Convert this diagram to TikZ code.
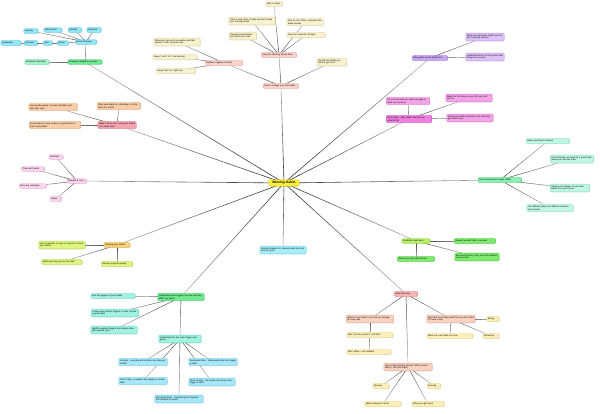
\documentclass[tikz,border=0pt]{standalone}
\usepackage{fontspec}
\setmainfont{Liberation Sans}
\usetikzlibrary{shadows,calc}
\pgfdeclarelayer{bg}\pgfsetlayers{bg,main}
\newcommand\mmfont{\fontsize{2.2}{2.75}\selectfont}
\definecolor{blueF}{HTML}{93E6F7}\definecolor{blueD}{HTML}{55C6E3}
\definecolor{grnF}{HTML}{6EE891}\definecolor{grnD}{HTML}{3CC868}
\definecolor{grlF}{HTML}{A6F2C8}\definecolor{grlD}{HTML}{6ED8A0}
\definecolor{pnkF}{HTML}{FAD3CD}\definecolor{pnkD}{HTML}{E8A8A0}
\definecolor{crmF}{HTML}{F8F2CF}\definecolor{crmD}{HTML}{DDD09A}
\definecolor{purF}{HTML}{C9A6F2}\definecolor{purD}{HTML}{A07AD8}
\definecolor{pulF}{HTML}{DDC2F7}\definecolor{pulD}{HTML}{B896E5}
\definecolor{redF}{HTML}{F5A3AE}\definecolor{redD}{HTML}{DD7A88}
\definecolor{pchF}{HTML}{F8CDA8}\definecolor{pchD}{HTML}{E0A878}
\definecolor{magF}{HTML}{F07EDF}\definecolor{magD}{HTML}{D050C0}
\definecolor{mglF}{HTML}{F5A3E8}\definecolor{mglD}{HTML}{DE78D0}
\definecolor{tmF}{HTML}{8CF0B4}\definecolor{tmD}{HTML}{50D088}
\definecolor{tlF}{HTML}{C2F7E6}\definecolor{tlD}{HTML}{80DCC0}
\definecolor{rwF}{HTML}{FAD3EE}\definecolor{rwD}{HTML}{E4A4D4}
\definecolor{trF}{HTML}{FAD27A}\definecolor{trD}{HTML}{E0A840}
\definecolor{limF}{HTML}{DDF67E}\definecolor{limD}{HTML}{B0D050}
\definecolor{ceF}{HTML}{B8F066}\definecolor{ceD}{HTML}{88CC30}
\definecolor{cgF}{HTML}{7EEB6E}\definecolor{cgD}{HTML}{50C840}
\definecolor{cyF}{HTML}{A8EEF8}\definecolor{cyD}{HTML}{70D0E8}
\definecolor{aqF}{HTML}{A2F2E2}\definecolor{aqD}{HTML}{60D4C0}
\definecolor{skF}{HTML}{A6E8F7}\definecolor{skD}{HTML}{60C8E8}
\definecolor{zF}{HTML}{F9B4B4}\definecolor{zD}{HTML}{E08080}
\definecolor{slF}{HTML}{F9D2C0}\definecolor{slD}{HTML}{E4A890}
\definecolor{ylF}{HTML}{FBF0B8}\definecolor{ylD}{HTML}{E0CC78}
\definecolor{ctF}{HTML}{FFF03A}\definecolor{ctD}{HTML}{D8C800}
\tikzset{
  mm/.style={rounded corners=1.2pt, line width=0.35pt, inner xsep=1.1pt, inner ysep=1.5pt, align=left,
    font=\mmfont, drop shadow={shadow xshift=0.5pt, shadow yshift=-0.5pt, opacity=0.2}},
  bx/.style 2 args={mm, fill=#1F, draw=#1D, text width=#2pt},
  ctr/.style={mm, fill=ctF, draw=ctD, text width=27pt, align=center,
    font=\fontsize{3.2}{3.8}\selectfont\bfseries, inner sep=1.6pt},
  seg/.style={line cap=round}
}
% fading connector: from node #1 to node #2, width #3
\newcommand\gl[3]{%
  \foreach \i in {0,...,7}{%
    \pgfmathsetmacro\s{\i/8}\pgfmathsetmacro\e{(\i+1)/8}%
    \pgfmathtruncatemacro\c{80-7*\i}%
    \draw[seg, line width=#3pt, draw=black!\c] ($(#1.center)!\s!(#2.center)$) -- ($(#1.center)!\e!(#2.center)$);}}
\begin{document}
\begin{tikzpicture}[x=1pt,y=-1pt]
\useasboundingbox (0,0) rectangle (600,414);
% centre
\node[ctr] (W) at (284,183) {Winning Habits};
% ---- top-left (character)
\node[bx={blue}{12}] (b1) at (31,31) {Honesty};
\node[bx={blue}{16}] (b2) at (53,30) {Self-Control};
\node[bx={blue}{11}] (b3) at (75,30) {Humility};
\node[bx={blue}{12}] (b4) at (94,30) {Optimism};
\node[bx={blue}{18}] (b5) at (11,43) {Leadership};
\node[bx={blue}{11}] (b6) at (31,43) {Curiosity};
\node[bx={blue}{7}] (b7) at (48,43) {Zest};
\node[bx={blue}{9}] (b8) at (63,43) {Social};
\node[bx={blue}{19}] (hub) at (86,42) {Good Character};
\node[bx={grn}{32}] (gm) at (85,62) {Character related to success};
\node[bx={grl}{22}] (gl) at (37,62) {Character Strengths};
% ---- top centre
\node[bx={pnk}{33}] (P1) at (281,86) {How to change your bad habits};
\node[bx={pnk}{33}] (P2) at (279,55) {Keep the Winning Streak Alive};
\node[bx={crm}{14}] (t0) at (274,4) {Miss no days};
\node[bx={crm}{44}] (t1) at (252,21) {Track a long chain of days and don't break your winning streak};
\node[bx={crm}{25}] (t2) at (243,36) {Reward yourself when you finish your habit};
\node[bx={crm}{34}] (t3) at (305,22) {Plan for the 'if-then' moments that break streaks};
\node[bx={crm}{36}] (t4) at (306,35) {Keep the streak for 30 days};
\node[bx={crm}{27}] (t5) at (332,62) {Identify the habits you want to get rid of};
\node[bx={pnk}{35}] (P3) at (224,63) {Replace negative self-talk};
\node[bx={crm}{44}] (t6) at (177,42) {Whenever you catch a negative self-talk, replace it with a positive one};
\node[bx={crm}{42}] (t7) at (175,57) {Swap 'I can't' for 'I am learning'};
\node[bx={crm}{37}] (t8) at (176,71) {Swap 'later' for 'right now'};
% ---- purple
\node[bx={pur}{33}] (U) at (430,58) {Why goals can be destructive};
\node[bx={pul}{36}] (u1) at (485,37) {Goals are temporary, habits are the key to lasting success};
\node[bx={pul}{36}] (u2) at (485,57) {Understand that it is the system that brings the success};
% ---- left orange
\node[bx={red}{36}] (O) at (117,125) {Make a fresh start: build your habits on a clean slate};
\node[bx={pch}{41}] (o1) at (119,106) {Start new habits on a Monday or at the start of a month};
\node[bx={pch}{46}] (o2) at (53,107) {Use big life events to break old habits and start new ones};
\node[bx={pch}{49}] (o3) at (55,125) {A new place or new routine is a great time to start a new habit};
% ---- magenta
\node[bx={mag}{43}] (M) at (409,119) {Start Small - 'Mini Habits' that are too small to fail};
\node[bx={mgl}{41}] (m1) at (408,101) {Do just one push-up, read one page or write one sentence};
\node[bx={mgl}{44}] (m2) at (469,98) {Make the first step so easy that you can't say no};
\node[bx={mgl}{44}] (m3) at (470,118) {Small wins build momentum and make bigger habits easy};
% ---- right teal
\node[bx={tm}{41}] (E) at (500,180) {How environment shapes habits};
\node[bx={tl}{41}] (e1) at (548,141) {Make good habits obvious};
\node[bx={tl}{41}] (e2) at (572,159) {Put the things you need for a good habit where you can see them};
\node[bx={tl}{37}] (e3) at (570,188) {Remove the triggers of your bad habits from your space};
\node[bx={tl}{44}] (e4) at (550,208) {Use different places for different activities and routines};
% ---- reward
\node[bx={rw}{17}] (R) at (77,181) {Reward \& Care};
\node[bx={rw}{12}] (r1) at (56,157) {Gratitude};
\node[bx={rw}{21}] (r2) at (33,169) {Time with friends};
\node[bx={rw}{25}] (r3) at (33,186) {Rest and relaxation};
\node[bx={rw}{9}] (r4) at (56,199) {Sleep};
% ---- tracking
\node[bx={tr}{24}] (T) at (117,245) {Tracking your habits};
\node[bx={lim}{44}] (tr1) at (62,245) {Use a calendar, an app or a journal to track your habits};
\node[bx={lim}{38}] (tr2) at (62,262) {Mark each day you do the habit};
\node[bx={lim}{29}] (tr3) at (117,264) {Review progress weekly};
% ---- celebrate
\node[bx={ce}{26}] (C) at (416,241) {Celebrate small wins};
\node[bx={cg}{39}] (c1) at (475,241) {Reward yourself after a success};
\node[bx={cg}{42}] (c2) at (477,257) {Be proud of every step, even the smallest one you take};
\node[bx={cg}{35}] (c3) at (416,259) {Share your wins with friends};
% ---- strong strategies
\node[bx={cy}{44}] (S) at (283,250) {Strong strategies for making habits last and stick for good};
% ---- bottom-left triggers
\node[bx={grn}{44}] (G) at (181,297) {Understand what triggers are and how they affect our habits};
\node[bx={aq}{42}] (g1) at (113,296) {Find the triggers of your habits};
\node[bx={aq}{45}] (g2) at (115,313) {Create new positive triggers in order to build a good habit};
\node[bx={aq}{44}] (g3) at (114,330) {Identify negative triggers and replace them with positive ones};
\node[bx={aq}{40}] (F) at (180,339) {Understand the five main trigger categories};
\node[bx={sk}{46}] (f1) at (143,362) {Location - your physical location can bring up a habit};
\node[bx={sk}{46}] (f2) at (143,381) {Time of day - a regular time triggers a certain habit};
\node[bx={sk}{46}] (f3) at (179,399) {Preceding Event - Something that happens first prompts an action};
\node[bx={sk}{46}] (f4) at (213,362) {Emotional State - What people feel can trigger a habit};
\node[bx={sk}{44}] (f5) at (212,382) {Other People - the people around you can trigger a habit};
% ---- bottom-right
\node[bx={z}{21}] (Z) at (406,294) {Habit Stacking};
\node[bx={sl}{45}] (L) at (370,319) {Attach a new habit to one that you already do every day};
\node[bx={yl}{44}] (l1) at (370,335) {After I brush my teeth, I will floss};
\node[bx={yl}{42}] (l2) at (369,352) {After coffee, I will meditate};
\node[bx={sl}{46}] (Rr) at (451,319) {Start with an existing habit that you do at least 10 times a day};
\node[bx={yl}{10}] (rr1) at (493,319) {Eating};
\node[bx={yl}{14}] (rr2) at (491,336) {Showering};
\node[bx={yl}{44}] (rr3) at (450,336) {Stack one new habit at a time};
\node[bx={sl}{46}] (B) at (408,367) {Use a habit stacking formula: After [current habit], I will [new habit]};
\node[bx={yl}{14}] (bb1) at (381,386) {Morning};
\node[bx={yl}{34}] (bb2) at (383,404) {Before leaving for work};
\node[bx={yl}{30}] (bb3) at (428,404) {When you get home};
\node[bx={yl}{11}] (bb4) at (434,386) {Evening};
% ---- background and connectors (behind the nodes)
\begin{pgfonlayer}{bg}
\fill[white] (0,0) rectangle (600,414);
\foreach \n in {gm,P1,U,O,M,E,R,T,C,S,G,Z} {\gl{W}{\n}{0.6}}
\gl{b5}{b6}{0.42}\gl{b6}{b7}{0.42}\gl{b7}{b8}{0.42}\gl{b8}{hub}{0.42}
\foreach \n in {b1,b2,b3,b4} {\gl{hub}{\n}{0.42}}
\gl{gm}{hub}{0.45}\gl{gm}{gl}{0.45}
\foreach \n in {P2,t5,P3} {\gl{P1}{\n}{0.45}}
\foreach \n in {t0,t1,t2,t3,t4} {\gl{P2}{\n}{0.42}}
\foreach \n in {t6,t7,t8} {\gl{P3}{\n}{0.42}}
\foreach \n in {u1,u2} {\gl{U}{\n}{0.45}}
\foreach \n in {o1,o2,o3} {\gl{O}{\n}{0.45}}
\foreach \n in {m1,m2,m3} {\gl{M}{\n}{0.45}}
\foreach \n in {e1,e2,e3,e4} {\gl{E}{\n}{0.45}}
\foreach \n in {r1,r2,r3,r4} {\gl{R}{\n}{0.45}}
\foreach \n in {tr1,tr2,tr3} {\gl{T}{\n}{0.45}}
\foreach \n in {c1,c2,c3} {\gl{C}{\n}{0.45}}
\foreach \n in {g1,g2,g3,F} {\gl{G}{\n}{0.45}}
\foreach \n in {f1,f2,f3,f4,f5} {\gl{F}{\n}{0.42}}
\foreach \n in {L,Rr,B} {\gl{Z}{\n}{0.45}}
\gl{L}{l1}{0.42}\gl{l1}{l2}{0.42}
\foreach \n in {rr1,rr2,rr3} {\gl{Rr}{\n}{0.42}}
\foreach \n in {bb1,bb2,bb3,bb4} {\gl{B}{\n}{0.42}}
\end{pgfonlayer}
\end{tikzpicture}
\end{document}
